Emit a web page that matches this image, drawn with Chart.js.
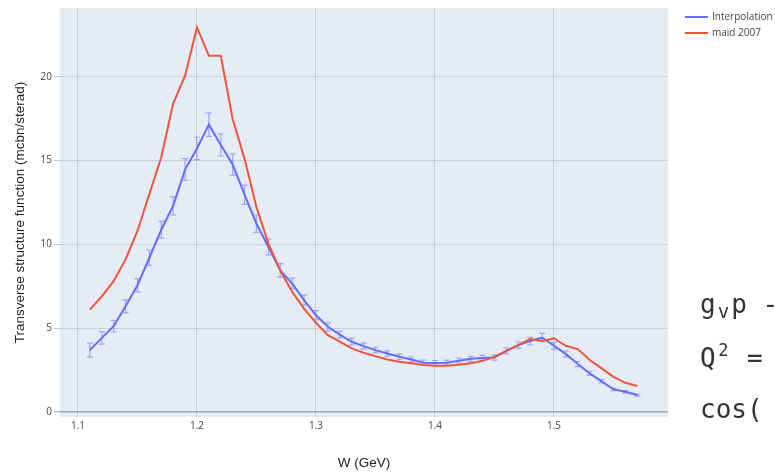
<!DOCTYPE html>
<html><head><meta charset="utf-8">
<script src="https://cdn.jsdelivr.net/npm/chart.js@4.4.1/dist/chart.umd.min.js"></script>
<style>
html,body{margin:0;padding:0;background:#fff;overflow:hidden;width:775px;height:474px}
#wrap{position:relative;width:775px;height:474px;overflow:hidden}
canvas{position:absolute;left:0;top:0}
.note{position:absolute;left:700px;font-family:"DejaVu Sans Mono",monospace;font-size:26px;line-height:26px;color:#333;white-space:pre}
.cell{display:inline-block;width:15.65px;text-align:center;position:relative}
</style>
</head><body>
<div id="wrap">
<canvas id="c" width="775" height="474"></canvas>
<div class="note" style="top:291px">g<span class="cell" style="font-size:19px;top:5px">v</span>p -</div>
<div class="note" style="top:345px">Q<span class="cell" style="font-size:17px;top:-11px">2</span> =</div>
<div class="note" style="top:396px">cos(</div>
</div>
<script>
const W = [1.11,1.12,1.13,1.14,1.15,1.16,1.17,1.18,1.19,1.20,1.21,1.22,1.23,1.24,1.25,1.26,1.27,1.28,1.29,1.30,1.31,1.32,1.33,1.34,1.35,1.36,1.37,1.38,1.39,1.40,1.41,1.42,1.43,1.44,1.45,1.46,1.47,1.48,1.49,1.50,1.51,1.52,1.53,1.54,1.55,1.56,1.57];
const interpolation = [3.69,4.42,5.12,6.31,7.56,9.2,10.87,12.3,14.46,15.72,17.14,15.93,14.76,12.96,11.23,9.84,8.45,7.66,6.67,5.77,5.08,4.62,4.19,3.93,3.69,3.49,3.29,3.13,2.94,2.92,2.94,3.06,3.17,3.22,3.25,3.65,3.99,4.23,4.44,3.95,3.45,2.86,2.30,1.83,1.35,1.21,1.01];
const interpolationErr = [0.42,0.37,0.35,0.38,0.4,0.45,0.5,0.55,0.65,0.67,0.7,0.66,0.64,0.57,0.52,0.47,0.4,0.32,0.3,0.28,0.24,0.2,0.2,0.18,0.17,0.16,0.16,0.15,0.15,0.15,0.15,0.15,0.15,0.16,0.16,0.18,0.2,0.22,0.25,0.2,0.18,0.15,0.12,0.1,0.08,0.07,0.06];
const maid2007 = [6.11,6.9,7.8,9.1,10.8,13.0,15.2,18.4,20.06,22.94,21.25,21.25,17.48,15.1,12.22,10.04,8.45,7.16,6.17,5.32,4.58,4.19,3.79,3.53,3.33,3.13,3.0,2.9,2.8,2.76,2.76,2.82,2.9,3.05,3.29,3.65,3.99,4.35,4.24,4.4,3.95,3.75,3.1,2.6,2.1,1.74,1.55];
const X_TICKS = [1.1,1.2,1.3,1.4,1.5];
const Y_TICKS = [0,5,10,15,20];
const SERIES_NAMES = ['Interpolation','maid 2007'];

const plotBg = {
  id:'plotBg',
  beforeDraw(chart){
    const a = chart.chartArea, ctx = chart.ctx;
    ctx.save(); ctx.fillStyle = '#E5ECF6';
    ctx.fillRect(a.left, a.top, a.right - a.left, a.bottom - a.top);
    ctx.restore();
  }
};
const errorBars = {
  id:'errorBars',
  beforeDatasetsDraw(chart){
    const xs = chart.scales.x, ys = chart.scales.y, ctx = chart.ctx;
    ctx.save();
    ctx.strokeStyle = 'rgba(99,110,250,0.55)';
    ctx.lineWidth = 1.2;
    for (let i = 0; i < W.length; i++){
      const x = xs.getPixelForValue(W[i]);
      const y1 = ys.getPixelForValue(interpolation[i] - interpolationErr[i]);
      const y2 = ys.getPixelForValue(interpolation[i] + interpolationErr[i]);
      ctx.beginPath();
      ctx.moveTo(x, y1); ctx.lineTo(x, y2);
      ctx.moveTo(x - 3, y1); ctx.lineTo(x + 3, y1);
      ctx.moveTo(x - 3, y2); ctx.lineTo(x + 3, y2);
      ctx.stroke();
    }
    ctx.restore();
  }
};
const legendPlugin = {
  id:'customLegend',
  afterDraw(chart){
    const ctx = chart.ctx;
    ctx.save();
    ctx.font = '10px "Open Sans", sans-serif';
    ctx.textBaseline = 'middle';
    ctx.fillStyle = '#444';
    const ys = [17, 33];
    chart.data.datasets.forEach((ds, i) => {
      ctx.strokeStyle = ds.borderColor; ctx.lineWidth = 2;
      ctx.beginPath(); ctx.moveTo(685, ys[i]); ctx.lineTo(708, ys[i]); ctx.stroke();
      ctx.fillText(ds.label, 712, ys[i]);
    });
    ctx.restore();
  }
};

new Chart(document.getElementById('c'), {
  type:'line',
  data:{
    datasets:[
      {label:SERIES_NAMES[0], data:W.map((w,i)=>({x:w,y:interpolation[i]})), borderColor:'#636EFA', borderWidth:2, pointRadius:0, tension:0, order:1},
      {label:SERIES_NAMES[1], data:W.map((w,i)=>({x:w,y:maid2007[i]})), borderColor:'#EF553B', borderWidth:2, pointRadius:0, tension:0, order:0}
    ]
  },
  options:{
    responsive:false, animation:false, devicePixelRatio:1,
    layout:{padding:{top:7,right:107,left:0,bottom:0}},
    plugins:{legend:{display:false}, tooltip:{enabled:false}},
    scales:{
      x:{
        type:'linear', min:1.0849, max:1.5958,
        afterBuildTicks(s){ s.ticks = X_TICKS.map(v=>({value:v})); },
        afterFit(s){ s.height = 57; },
        ticks:{callback:v=>v.toFixed(1), font:{family:'"Open Sans", sans-serif', size:10}, color:'#444', padding:3, maxRotation:0},
        grid:{color:'#c9ced8', lineWidth:1, drawTicks:false},
        border:{display:false},
        title:{display:true, text:'W (GeV)', font:{family:'"Liberation Sans", Arial, sans-serif', size:13.5}, color:'#222', padding:{top:0,bottom:3}}
      },
      y:{
        type:'linear', min:-0.3, max:24.1,
        afterBuildTicks(s){ s.ticks = Y_TICKS.map(v=>({value:v})); },
        afterFit(s){ s.width = 60; },
        ticks:{font:{family:'"Open Sans", sans-serif', size:10}, color:'#444', padding:2},
        grid:{color:c=>c.tick && c.tick.value===0 ? '#a3a8b2' : '#c9ced8', lineWidth:c=>c.tick && c.tick.value===0 ? 1.5 : 1, drawTicks:true, tickLength:6, tickColor:'#c0c4cc'},
        border:{display:false},
        title:{display:true, text:'Transverse structure function (mcbn/sterad)', font:{family:'"Liberation Sans", Arial, sans-serif', size:13.5}, color:'#222', padding:{top:12,bottom:0}}
      }
    }
  },
  plugins:[plotBg, errorBars, legendPlugin]
});
</script>
</body></html>
